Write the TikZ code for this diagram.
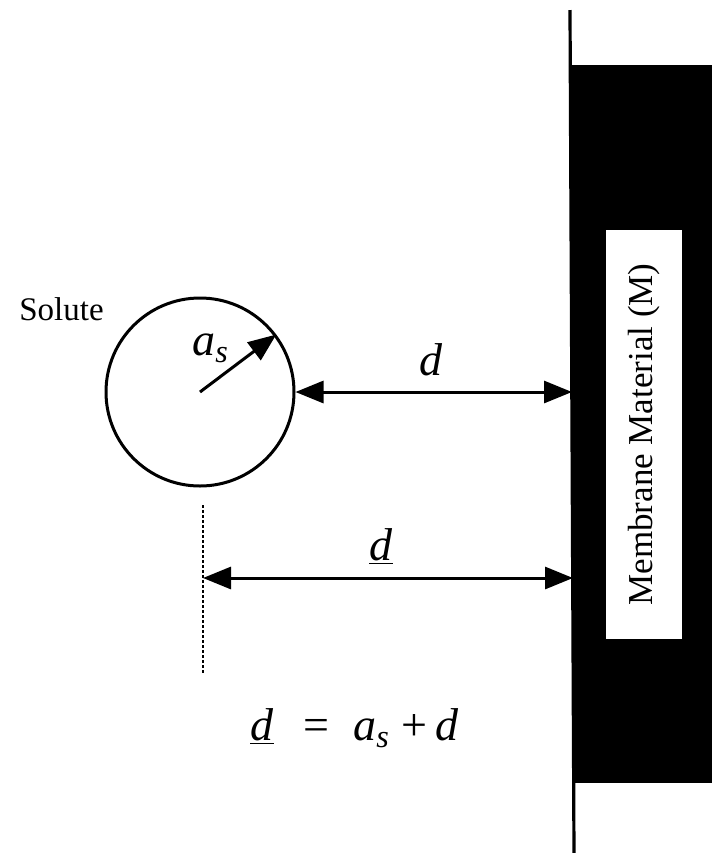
\documentclass[tikz,border=0pt]{standalone}
\usepackage{fontspec}
\setmainfont{Liberation Serif}
\usepackage{tikz}
\usetikzlibrary{arrows.meta}

\newcommand{\asub}{\textit{a}\textsubscript{\textit{s}}}
\newcommand{\dbar}{\underline{\textit{d}}}

\begin{document}
\begin{tikzpicture}[x=0.5pt,y=-0.5pt,
    dim/.style={{Triangle[length=14pt,width=11pt]}-{Triangle[length=14pt,width=11pt]},line width=1.5pt},
    lab/.style={font=\fontsize{23}{26}\selectfont,inner sep=0pt}]
    \useasboundingbox (0,0) rectangle (712,853);

    % membrane
    \fill[black] (572,65) rectangle (712,783);
    \draw[line width=1.6pt] (570,10) -- (574,853);
    \node[fill=white,rotate=90,minimum width=204.5pt,minimum height=38pt,inner sep=0pt,
          font=\fontsize{17.5}{20}\selectfont] (mem) at (644,434.5) {Membrane Material (M)};
    \coordinate (w1) at (572,392);
    \coordinate (w2) at (573,578);

    % solute
    \node[draw,circle,line width=1.5pt,minimum size=94pt,inner sep=0pt] (sol) at (200,392) {};
    \node[anchor=base west,font=\fontsize{16.5}{20}\selectfont,inner sep=0pt] (soltxt) at (19,320) {Solute};
    \node[lab,anchor=base west] (as) at (192,355) {\asub};
    \draw[-{Triangle[length=14pt,width=11pt]},line width=1.5pt] (sol.center) -- (sol.37);

    % reference plane
    \coordinate (p1) at (203,505);
    \coordinate (p2) at (203,578);
    \coordinate (p3) at (203,673);
    \draw[line width=1.3pt,dash pattern=on 1.5pt off 1pt] (p1) -- (p3);

    \path
    (sol.east) edge[dim] (w1)
    (p2) edge[dim] (w2);

    \node[lab,anchor=base] (d1) at (431,375) {\textit{d}};
    \node[lab,anchor=base] (d2) at (381,560) {\dbar};
    \node[lab,anchor=base west] (eq) at (250,740)
      {\dbar\hspace{15pt}=\hspace{12pt}\asub\hspace{6pt}+\hspace{4pt}\textit{d}};
\end{tikzpicture}
\end{document}
